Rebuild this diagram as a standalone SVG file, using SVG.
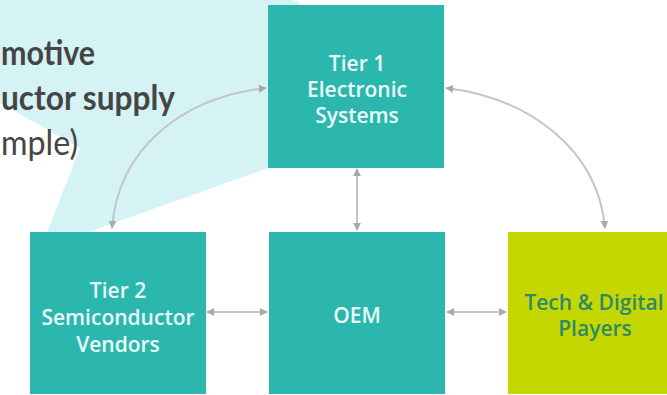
<svg xmlns="http://www.w3.org/2000/svg" width="667" height="395" viewBox="0 0 667 395">
  <style>
    .teal { fill: #2bb7ae; }
    .lime { fill: #c5d700; }
    .lbl { font-family: "Open Sans", "Liberation Sans", sans-serif; font-size: 21px; font-weight: 600; text-anchor: middle; fill: #eafcfa; }
    .lbl-dark { fill: #2f8a66; }
    .head { font-family: Lato, "Liberation Sans", sans-serif; font-size: 35px; fill: #454545; }
    .conn { fill: none; stroke: #c4c4c4; stroke-width: 2; marker-start: url(#ah); marker-end: url(#ah); }
  </style>
  <defs>
    <marker id="ah" viewBox="0 0 10 10" refX="9" refY="5" markerWidth="8" markerHeight="8" markerUnits="userSpaceOnUse" orient="auto-start-reverse">
      <path d="M0,0 L10,5 L0,10 Z" fill="#a9a9a9"/>
    </marker>
  </defs>

  <rect width="667" height="395" fill="#ffffff"/>

  <g id="callout">
    <path d="M0,0 H290 Q302,0 302,12 V156 L66,240 L44,240 L80,148 L0,103 Z" fill="#d5f3f5"/>
    <text class="head" x="1" y="65" font-weight="700" textLength="94" lengthAdjust="spacingAndGlyphs">motive</text>
    <text class="head" x="1" y="110" font-weight="700" textLength="174" lengthAdjust="spacingAndGlyphs">uctor supply</text>
    <text class="head" x="1" y="155" font-weight="400" fill="#4a4a4a" textLength="77" lengthAdjust="spacingAndGlyphs">mple)</text>
  </g>

  <g id="connectors">
    <path class="conn" d="M112,228 C118,150 180,98 266,88"/>
    <path class="conn" d="M446,88 C530,98 598,150 605,228"/>
    <path class="conn" d="M357,169 V230"/>
    <path class="conn" d="M207,312 H267"/>
    <path class="conn" d="M447,312 H506"/>
  </g>

  <g id="tier1">
    <rect class="teal" x="268" y="5" width="176" height="163"/>
    <text class="lbl" x="357" y="71">Tier 1</text>
    <text class="lbl" x="357" y="97">Electronic</text>
    <text class="lbl" x="357" y="123">Systems</text>
  </g>

  <g id="tier2">
    <rect class="teal" x="30" y="232" width="176" height="162"/>
    <text class="lbl" x="118" y="298">Tier 2</text>
    <text class="lbl" x="118" y="325">Semiconductor</text>
    <text class="lbl" x="118" y="352">Vendors</text>
  </g>

  <g id="oem">
    <rect class="teal" x="269" y="232" width="176" height="162"/>
    <text class="lbl" x="357" y="323">OEM</text>
  </g>

  <g id="tech">
    <rect class="lime" x="508" y="232" width="176" height="162"/>
    <text class="lbl lbl-dark" x="594" y="310">Tech &amp; Digital</text>
    <text class="lbl lbl-dark" x="595" y="336">Players</text>
  </g>
</svg>
